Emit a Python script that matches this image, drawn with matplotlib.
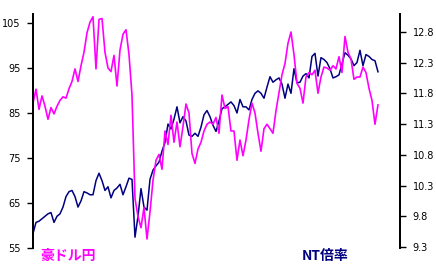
import matplotlib
matplotlib.use("Agg")
import matplotlib.pyplot as plt

# 豪ドル円 (left axis)
aud_jpy = [87.2, 90.3, 85.8, 88.8, 86.5, 83.6, 86.2, 84.8, 86.5, 87.8,
           88.6, 88.3, 90.4, 92.0, 94.8, 92.0, 95.5, 98.5, 102.8, 105.2,
           106.4, 94.8, 105.8, 106.0, 98.5, 95.0, 94.2, 97.8, 91.0, 99.0,
           102.5, 103.5, 98.0, 89.0, 66.0, 62.0, 59.5, 64.0, 57.0, 63.0,
           70.0, 74.5, 75.8, 72.5, 81.0, 78.0, 84.5, 78.5, 83.0, 77.5,
           82.0, 87.0, 85.0, 76.0, 73.8, 77.0, 78.5, 81.0, 82.5, 83.0,
           82.5, 84.0, 80.5, 89.0, 86.0, 86.4, 81.0, 81.0, 74.5, 79.0,
           75.5, 79.0, 83.5, 87.2, 85.0, 80.5, 76.5, 81.5, 82.5, 81.5,
           80.5, 85.5, 89.5, 93.5, 96.0, 100.5, 103.0, 98.0, 91.6, 90.5,
           87.2, 93.0, 94.0, 93.5, 94.5, 89.4, 93.0, 95.2, 95.0, 94.5,
           95.5, 94.8, 97.5, 94.0, 102.0, 98.5, 97.0, 92.5, 93.0, 93.0,
           95.2, 94.0, 90.5, 87.8, 82.5, 86.8]

# NT倍率 (right axis)
nt_ratio = [9.52, 9.70, 9.72, 9.76, 9.80, 9.84, 9.86, 9.70, 9.80, 9.84,
            9.95, 10.12, 10.20, 10.22, 10.12, 9.95, 10.05, 10.20, 10.18, 10.15,
            10.15, 10.38, 10.50, 10.38, 10.22, 10.28, 10.10, 10.22, 10.26, 10.32,
            10.15, 10.28, 10.42, 10.40, 9.46, 9.80, 10.25, 9.95, 9.90, 10.40,
            10.55, 10.62, 10.68, 10.86, 11.00, 11.30, 11.22, 11.38, 11.58, 11.32,
            11.42, 11.35, 11.12, 11.10, 11.15, 11.10, 11.25, 11.45, 11.52, 11.42,
            11.28, 11.18, 11.35, 11.55, 11.58, 11.62, 11.66, 11.60, 11.48, 11.70,
            11.58, 11.58, 11.53, 11.70, 11.80, 11.84, 11.80, 11.72, 11.90, 12.07,
            11.98, 12.02, 12.05, 11.95, 11.72, 11.95, 11.80, 12.20, 11.97, 11.98,
            12.08, 12.12, 12.05, 12.40, 12.45, 12.08, 12.38, 12.35, 12.30, 12.20,
            12.05, 12.07, 12.10, 12.28, 12.46, 12.42, 12.36, 12.25, 12.30, 12.50,
            12.25, 12.43, 12.40, 12.35, 12.33, 12.15]

left_ticks = [55, 65, 75, 85, 95, 105]
right_ticks = [9.3, 9.8, 10.3, 10.8, 11.3, 11.8, 12.3, 12.8]

x = list(range(len(aud_jpy)))

fig = plt.figure(figsize=(4.36, 2.72), dpi=100)
ax = fig.add_axes([33 / 436, 1 - 248 / 272, 367 / 436, 234 / 272])
ax2 = ax.twinx()

ax.plot(x, aud_jpy, color="#FF00FF", linewidth=1.2)
ax2.plot(x, nt_ratio, color="#000080", linewidth=1.1)

ax.set_xlim(0, (len(x) - 1) / 0.94)
ax.set_ylim(55, 107)
ax2.set_ylim(9.284, 13.09)

ax.set_yticks(left_ticks)
ax.set_yticklabels([str(t) for t in left_ticks])
ax2.set_yticks(right_ticks)
ax2.set_yticklabels([str(t) for t in right_ticks])
ax.set_xticks([])

for a in (ax, ax2):
    a.spines["top"].set_visible(False)
    a.spines["bottom"].set_visible(False)
    a.spines["left"].set_linewidth(1.3)
    a.spines["right"].set_linewidth(1.3)
    a.tick_params(axis="y", length=4, width=1, labelsize=7, pad=5)
ax.set_zorder(ax2.get_zorder() + 1)
ax.patch.set_visible(False)

fig.text(40 / 436, 1 - 256 / 272, "豪ドル円", color="#FF00FF", fontsize=10,
         fontweight="bold", family=["Noto Sans CJK JP", "DejaVu Sans"], va="center")
fig.text(302 / 436, 1 - 256 / 272, "NT倍率", color="#000080", fontsize=10,
         fontweight="bold", family=["Noto Sans CJK JP", "DejaVu Sans"], va="center")

fig.savefig("out.png", dpi=100)
